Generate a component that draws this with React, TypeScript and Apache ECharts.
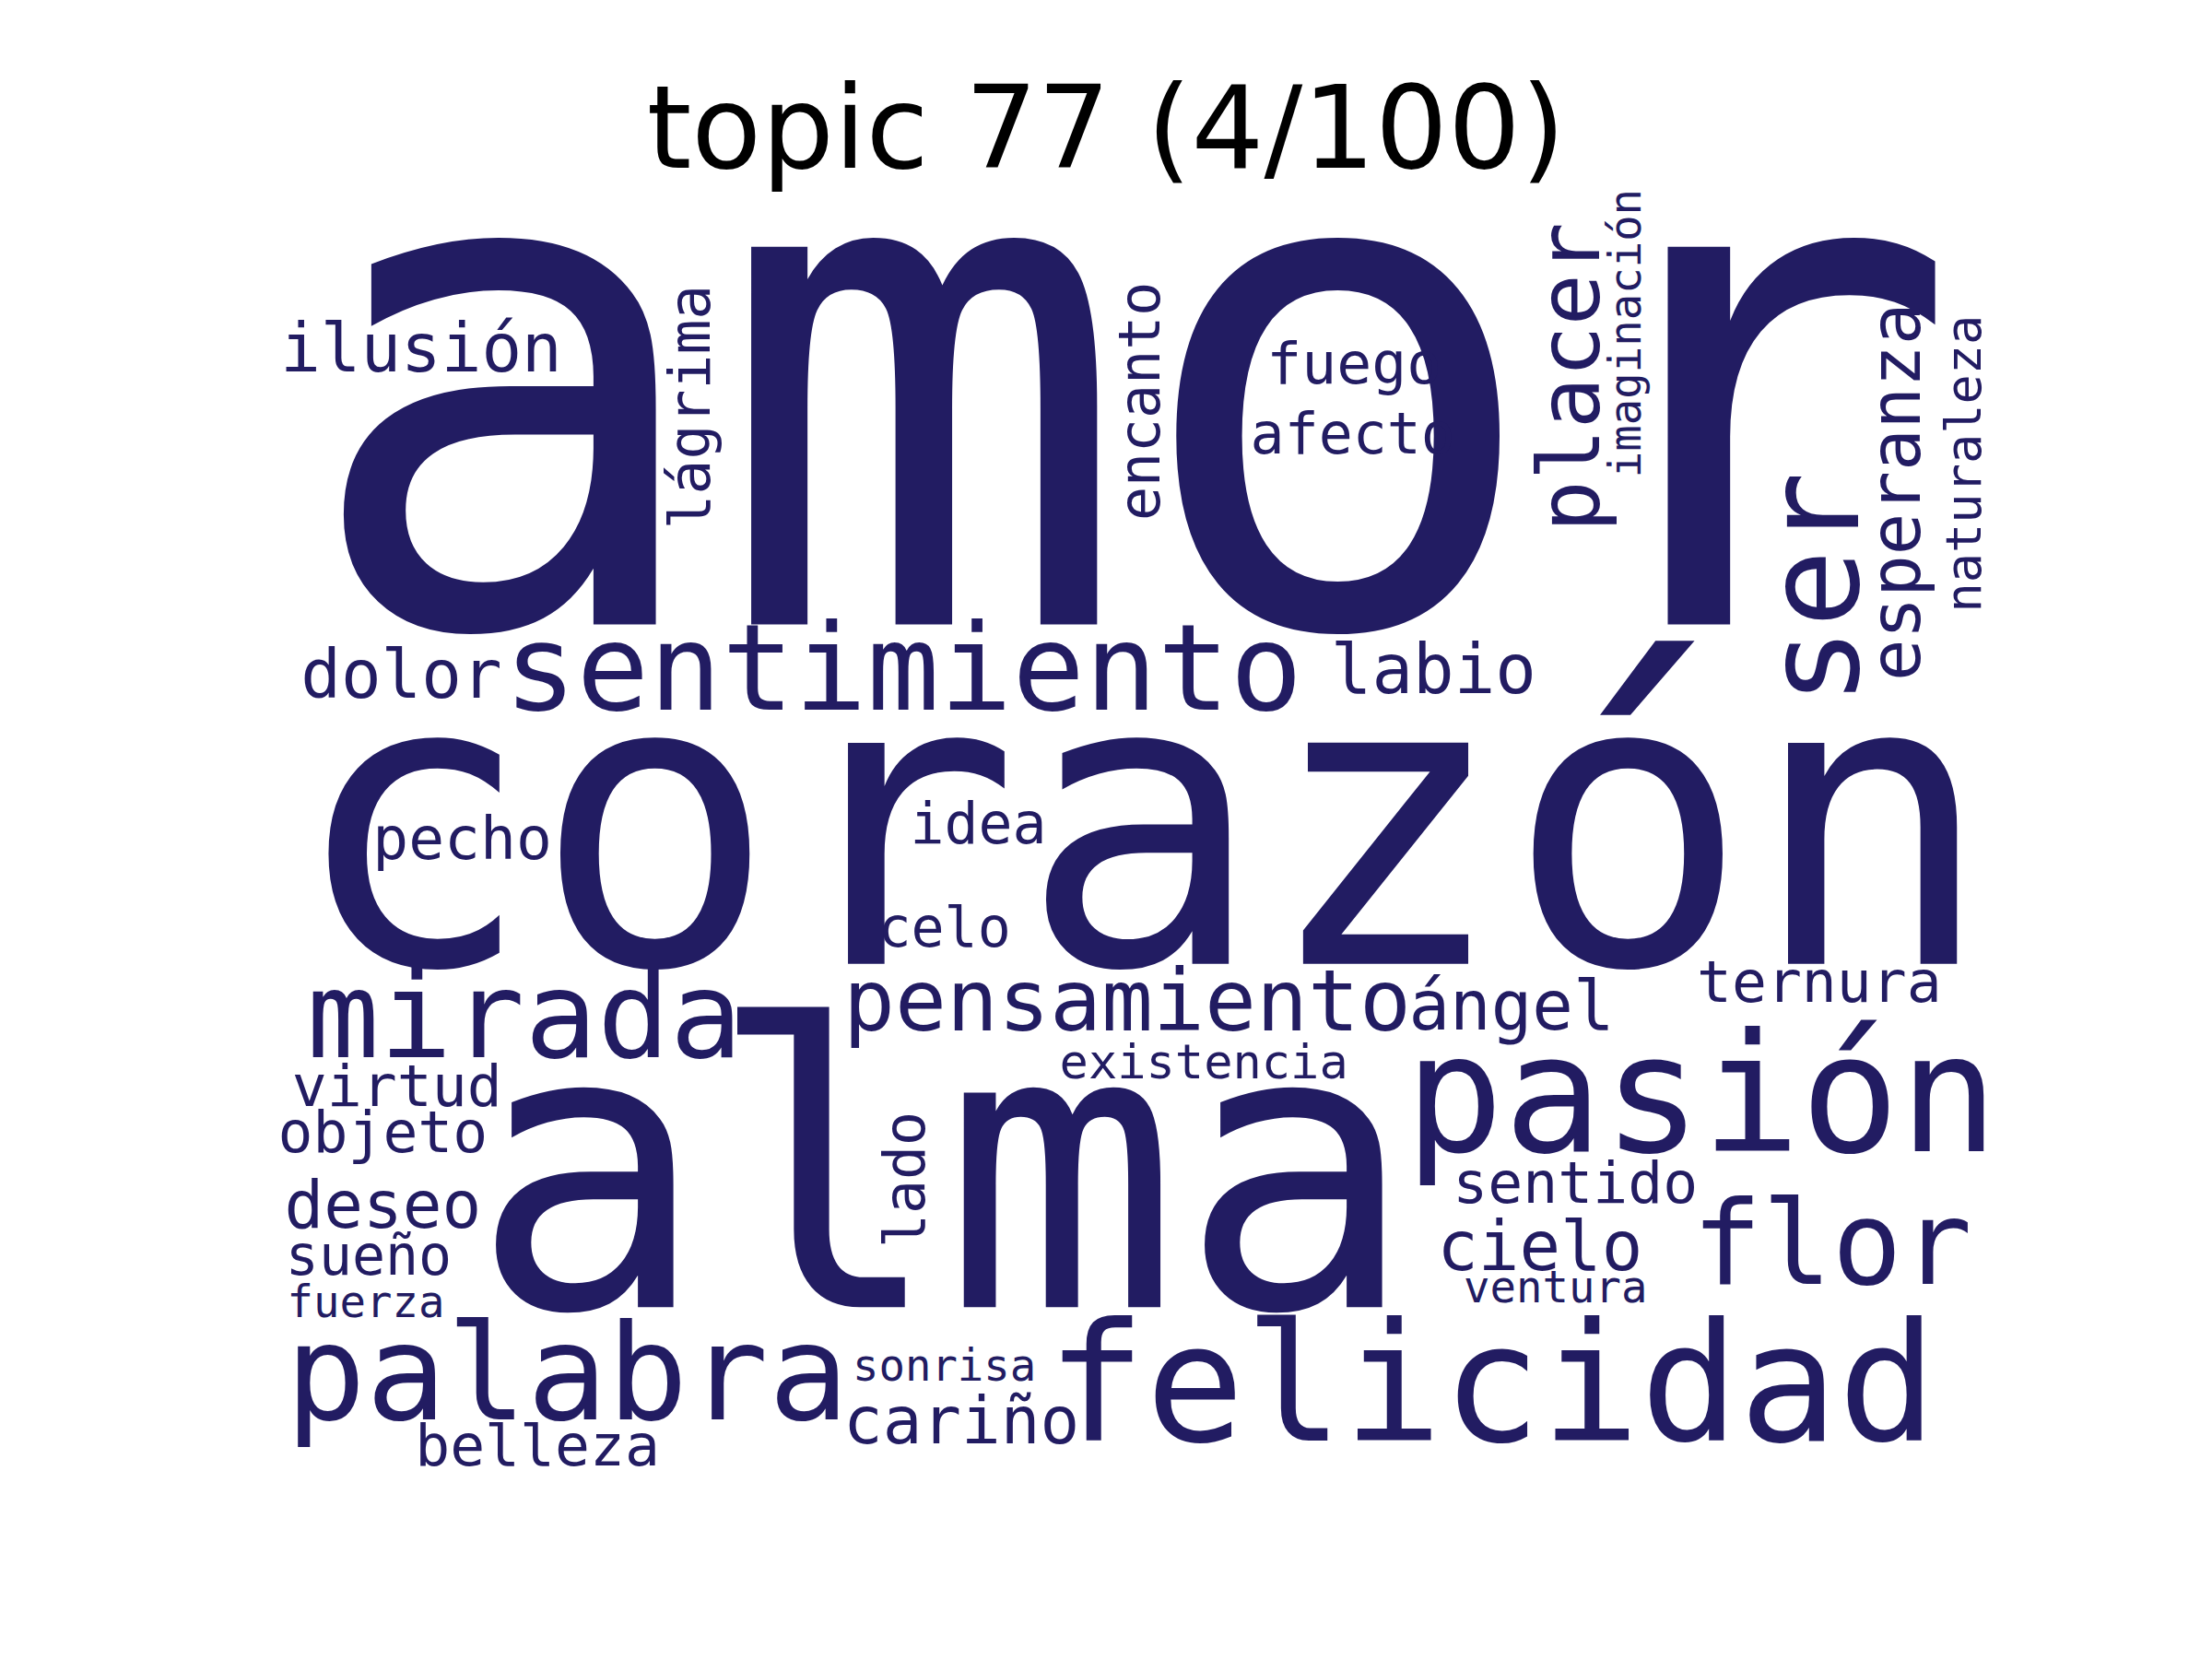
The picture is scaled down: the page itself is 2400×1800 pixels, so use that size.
import React, { useEffect, useRef } from "react";
import * as echarts from "echarts";

// word cloud layout (units: reference px, 1560 x 1170 canvas)
const words = [
  "amor", "corazón", "alma", "felicidad", "pasión", "palabra", "mirada", "sentimiento",
  "pensamiento", "flor", "ser", "placer", "esperanza", "naturaleza", "imaginación", "encanto",
  "lágrima", "lado", "ilusión", "fuego", "afecto", "dolor", "labio", "pecho", "idea", "celo",
  "ángel", "ternura", "existencia", "virtud", "objeto", "deseo", "sueño", "fuerza", "sentido",
  "cielo", "ventura", "sonrisa", "cariño", "belleza",
];
const xs = [797, 805, 665, 1052, 1200, 400, 370, 637, 795, 1292, 1279, 1107, 1337, 1385, 1146, 804,
  486, 638, 297, 955, 954, 283, 1011, 326, 690, 666, 1066, 1283, 849, 280, 270, 270, 260, 258, 1111,
  1086, 1097, 666, 678, 379];
const ys = [272, 581, 826, 976, 772, 968, 716, 471, 706, 877, 415, 266, 347, 327, 235, 283, 287, 832,
  246, 256, 306, 476, 472, 591, 581, 654, 709, 692, 749, 766, 798, 850, 885, 918, 834, 879, 908, 963,
  1002, 1019];
const sizes = [475, 278, 270, 113, 113, 92, 83, 83, 59, 80, 89, 59, 48, 34, 30, 39, 40, 39, 46, 40, 39,
  46, 47, 41, 39, 38, 47, 40, 33, 40, 40, 45, 38, 30, 40, 47, 30, 30, 45, 40];
const rotations = [0, 0, 0, 0, 0, 0, 0, 0, 0, 0, 90, 90, 90, 90, 90, 90, 90, 90, 0, 0, 0, 0, 0, 0, 0, 0,
  0, 0, 0, 0, 0, 0, 0, 0, 0, 0, 0, 0, 0, 0];

const S = 2400 / 1560;

export default function App() {
  const ref = useRef<HTMLDivElement>(null);

  useEffect(() => {
    document.body.style.margin = "0";
    if (!ref.current) return;
    const chart = echarts.init(ref.current, null, { renderer: "svg" });
    chart.setOption({
      animation: false,
      backgroundColor: "#ffffff",
      title: {
        text: "topic 77 (4/100)",
        left: "center",
        top: 72,
        textStyle: { fontFamily: "DejaVu Sans", fontSize: 124, fontWeight: "normal", color: "#000" },
      },
      grid: { left: 0, right: 0, top: 0, bottom: 0 },
      xAxis: { type: "value", min: 0, max: 1560, show: false },
      yAxis: { type: "value", min: 0, max: 1170, inverse: true, show: false },
      series: [
        {
          type: "scatter",
          symbolSize: 0,
          silent: true,
          itemStyle: { opacity: 1 },
          data: words.map((w, i) => ({
            name: w,
            value: [xs[i], ys[i]],
            label: { fontSize: sizes[i] * S * 1.025, rotate: rotations[i] },
          })),
          label: {
            show: true,
            position: "inside",
            formatter: "{b}",
            align: "center",
            verticalAlign: "middle",
            fontFamily: "DejaVu Sans Mono",
            color: "#221c62",
            opacity: 1,
          },
          emphasis: { disabled: true },
        },
      ],
    });
    return () => chart.dispose();
  }, []);

  return <div ref={ref} style={{ width: 2400, height: 1800 }} />;
}
